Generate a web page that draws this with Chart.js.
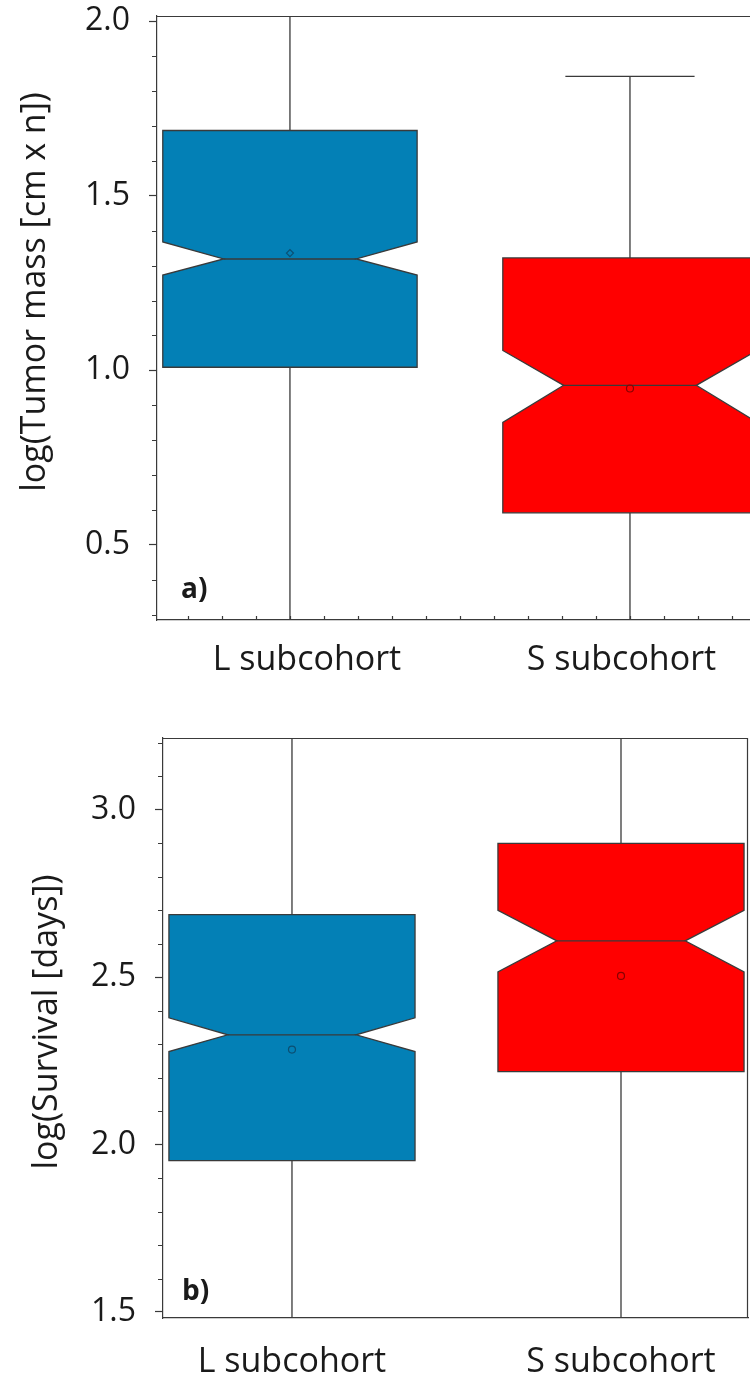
<!DOCTYPE html>
<html>
<head>
<meta charset="utf-8">
<script src="https://cdn.jsdelivr.net/npm/chart.js@4.4.1/dist/chart.umd.min.js"></script>
<style>
html, body { margin: 0; padding: 0; background: #fff; }
#wrapA { position: absolute; left: 0; top: 0; width: 750px; height: 690px; }
#wrapB { position: absolute; left: 0; top: 690px; width: 750px; height: 688px; }
</style>
</head>
<body>
<div id="wrapA"><canvas id="chartA" width="750" height="690"></canvas></div>
<div id="wrapB"><canvas id="chartB" width="750" height="688"></canvas></div>
<script>
const groups = ['L subcohort', 'S subcohort'];
const groupPos = [1, 2];
const boxColors = ['#0380b6', '#ff0000'];

// a) log(Tumor mass [cm x n])
const massMin = [0.2, 0.2];
const massQ1 = [1.009, 0.592];
const massMedian = [1.319, 0.957];
const massQ3 = [1.687, 1.322];
const massMax = [2.1, 1.842];
const massNotchLo = [1.273, 0.851];
const massNotchHi = [1.368, 1.057];
const massMean = [1.336, 0.948];
const massTicks = [0.5, 1.0, 1.5, 2.0];

// b) log(Survival [days])
const survMin = [1.4, 1.4];
const survQ1 = [1.952, 2.218];
const survMedian = [2.328, 2.609];
const survQ3 = [2.687, 2.90];
const survMax = [3.3, 3.3];
const survNotchLo = [2.278, 2.516];
const survNotchHi = [2.379, 2.70];
const survMean = [2.284, 2.504];
const survTicks = [1.5, 2.0, 2.5, 3.0];

const FONT = "'Open Sans', 'DejaVu Sans', sans-serif";
const INK = '#1a1a1a';
const LINE = '#3a3a3a';

// notched boxes, drawn through the chart's own x/y scales
const notchedBoxes = {
  id: 'notchedBoxes',
  beforeDatasetsDraw(chart, args, opts) {
    const { ctx, chartArea: a, scales: { x, y } } = chart;
    const s = opts.stats;
    ctx.save();
    ctx.beginPath();
    ctx.rect(a.left, a.top, a.right - a.left, a.bottom - a.top);
    ctx.clip();
    ctx.strokeStyle = LINE;
    ctx.lineWidth = 1.3;
    groupPos.forEach((p, i) => {
      const xc = x.getPixelForValue(p);
      const xl = x.getPixelForValue(p - 0.374), xr = x.getPixelForValue(p + 0.374);
      const nl = x.getPixelForValue(p - 0.195), nr = x.getPixelForValue(p + 0.195);
      const cl = x.getPixelForValue(p - 0.19), cr = x.getPixelForValue(p + 0.19);
      const yMin = y.getPixelForValue(s.min[i]);
      const yQ1 = y.getPixelForValue(s.q1[i]);
      const yMed = y.getPixelForValue(s.median[i]);
      const yQ3 = y.getPixelForValue(s.q3[i]);
      const yMax = y.getPixelForValue(s.max[i]);
      const yLo = y.getPixelForValue(s.notchLo[i]);
      const yHi = y.getPixelForValue(s.notchHi[i]);

      ctx.beginPath();
      ctx.moveTo(xc, yQ3); ctx.lineTo(xc, yMax);
      ctx.moveTo(cl, yMax); ctx.lineTo(cr, yMax);
      ctx.moveTo(xc, yQ1); ctx.lineTo(xc, yMin);
      ctx.moveTo(cl, yMin); ctx.lineTo(cr, yMin);
      ctx.stroke();

      ctx.beginPath();
      ctx.moveTo(xl, yQ3);
      ctx.lineTo(xr, yQ3);
      ctx.lineTo(xr, yHi);
      ctx.lineTo(nr, yMed);
      ctx.lineTo(xr, yLo);
      ctx.lineTo(xr, yQ1);
      ctx.lineTo(xl, yQ1);
      ctx.lineTo(xl, yLo);
      ctx.lineTo(nl, yMed);
      ctx.lineTo(xl, yHi);
      ctx.closePath();
      ctx.fillStyle = boxColors[i];
      ctx.fill();
      ctx.stroke();

      ctx.beginPath();
      ctx.moveTo(nl, yMed); ctx.lineTo(nr, yMed);
      ctx.stroke();
    });
    ctx.restore();
  }
};

// frame lines, minor ticks, axis title and the panel letter
const frame = {
  id: 'frame',
  afterDraw(chart, args, opts) {
    const { ctx, chartArea: a, scales: { x, y } } = chart;
    ctx.save();
    ctx.strokeStyle = LINE;
    ctx.lineWidth = 1.2;
    ctx.beginPath();
    ctx.moveTo(a.left, a.top + 0.5); ctx.lineTo(a.right, a.top + 0.5);
    if (opts.right) { ctx.moveTo(a.right - 0.5, a.top); ctx.lineTo(a.right - 0.5, a.bottom); }
    ctx.stroke();

    ctx.beginPath();
    for (let k = Math.ceil(y.min * 10); k <= Math.floor(y.max * 10); k++) {
      if (k % 5 === 0) continue;
      const py = Math.round(y.getPixelForValue(k / 10)) + 0.5;
      ctx.moveTo(a.left - 5, py); ctx.lineTo(a.left, py);
    }
    if (opts.xMinor) {
      for (let k = Math.ceil(x.min * 10); k <= Math.floor(x.max * 10); k++) {
        const px = Math.round(x.getPixelForValue(k / 10)) + 0.5;
        ctx.moveTo(px, a.bottom); ctx.lineTo(px, a.bottom - 4);
      }
    }
    ctx.stroke();

    ctx.fillStyle = INK;
    ctx.font = 'bold 28px ' + FONT;
    ctx.textBaseline = 'alphabetic';
    ctx.textAlign = 'left';
    ctx.fillText(opts.letter, a.left + opts.letterDx, a.bottom - opts.letterDy);

    // y axis title
    ctx.translate(opts.titleX, (a.top + a.bottom) / 2 + opts.titleDy);
    ctx.rotate(-Math.PI / 2);
    ctx.font = '34px ' + FONT;
    ctx.textAlign = 'center';
    ctx.textBaseline = 'middle';
    ctx.fillText(opts.title, 0, 0);
    ctx.restore();
  }
};

function makeChart(id, cfg) {
  return new Chart(document.getElementById(id), {
    type: 'scatter',
    data: {
      datasets: [{
        data: groupPos.map((p, i) => ({ x: p, y: cfg.stats.mean[i] })),
        pointStyle: cfg.markers,
        pointRadius: 3.5,
        pointBorderWidth: 1.2,
        pointBackgroundColor: 'rgba(0,0,0,0)',
        pointBorderColor: ['#0b4f73', '#8a0000']
      }]
    },
    options: {
      responsive: false,
      animation: false,
      layout: { autoPadding: false, padding: { top: cfg.top, right: cfg.right, left: 0, bottom: 0 } },
      plugins: {
        legend: { display: false },
        tooltip: { enabled: false },
        notchedBoxes: { stats: cfg.stats },
        frame: cfg.frame
      },
      scales: {
        x: {
          type: 'linear',
          min: cfg.xMin,
          max: cfg.xMax,
          afterBuildTicks: sc => { sc.ticks = cfg.labelPos.map(v => ({ value: v })); },
          afterFit: sc => { sc.height = cfg.xHeight; sc.paddingLeft = 0; sc.paddingRight = 0; },
          ticks: {
            autoSkip: false,
            maxRotation: 0,
            padding: cfg.xPad,
            color: INK,
            font: { family: FONT, size: 34 },
            callback: (v, i) => groups[i]
          },
          grid: { drawOnChartArea: false, drawTicks: false },
          border: { color: LINE, width: 1.2 }
        },
        y: {
          min: cfg.yMin,
          max: cfg.yMax,
          afterBuildTicks: sc => { sc.ticks = cfg.ticks.map(v => ({ value: v })); },
          afterFit: sc => { sc.width = cfg.yWidth; sc.paddingTop = 0; sc.paddingBottom = 0; },
          ticks: {
            padding: 19,
            color: INK,
            font: { family: FONT, size: 32 },
            callback: v => v.toFixed(1)
          },
          grid: { drawOnChartArea: false, tickLength: 8, color: LINE, tickWidth: 1.2 },
          border: { color: LINE, width: 1.2 }
        }
      }
    },
    plugins: [notchedBoxes, frame]
  });
}

makeChart('chartA', {
  stats: { min: massMin, q1: massQ1, median: massMedian, q3: massQ3, max: massMax,
           notchLo: massNotchLo, notchHi: massNotchHi, mean: massMean },
  markers: ['rectRot', 'circle'],
  ticks: massTicks,
  yMin: 0.285, yMax: 2.015,
  xMin: 0.609, xMax: 2.353,
  labelPos: [1.05, 1.975],
  top: 16, right: 0,
  yWidth: 157, xHeight: 70, xPad: 20,
  frame: { right: false, xMinor: true, letter: 'a)', letterDx: 24, letterDy: 22,
           title: 'log(Tumor mass [cm x n])', titleX: 35, titleDy: -26 }
});

makeChart('chartB', {
  stats: { min: survMin, q1: survQ1, median: survMedian, q3: survQ3, max: survMax,
           notchLo: survNotchLo, notchHi: survNotchHi, mean: survMean },
  markers: ['circle', 'circle'],
  ticks: survTicks,
  yMin: 1.482, yMax: 3.215,
  xMin: 0.608, xMax: 2.386,
  labelPos: [1, 2],
  top: 48, right: 2,
  yWidth: 163, xHeight: 60, xPad: 24,
  frame: { right: true, xMinor: false, letter: 'b)', letterDx: 19, letterDy: 18,
           title: 'log(Survival [days])', titleX: 47, titleDy: -6 }
});
</script>
</body>
</html>
